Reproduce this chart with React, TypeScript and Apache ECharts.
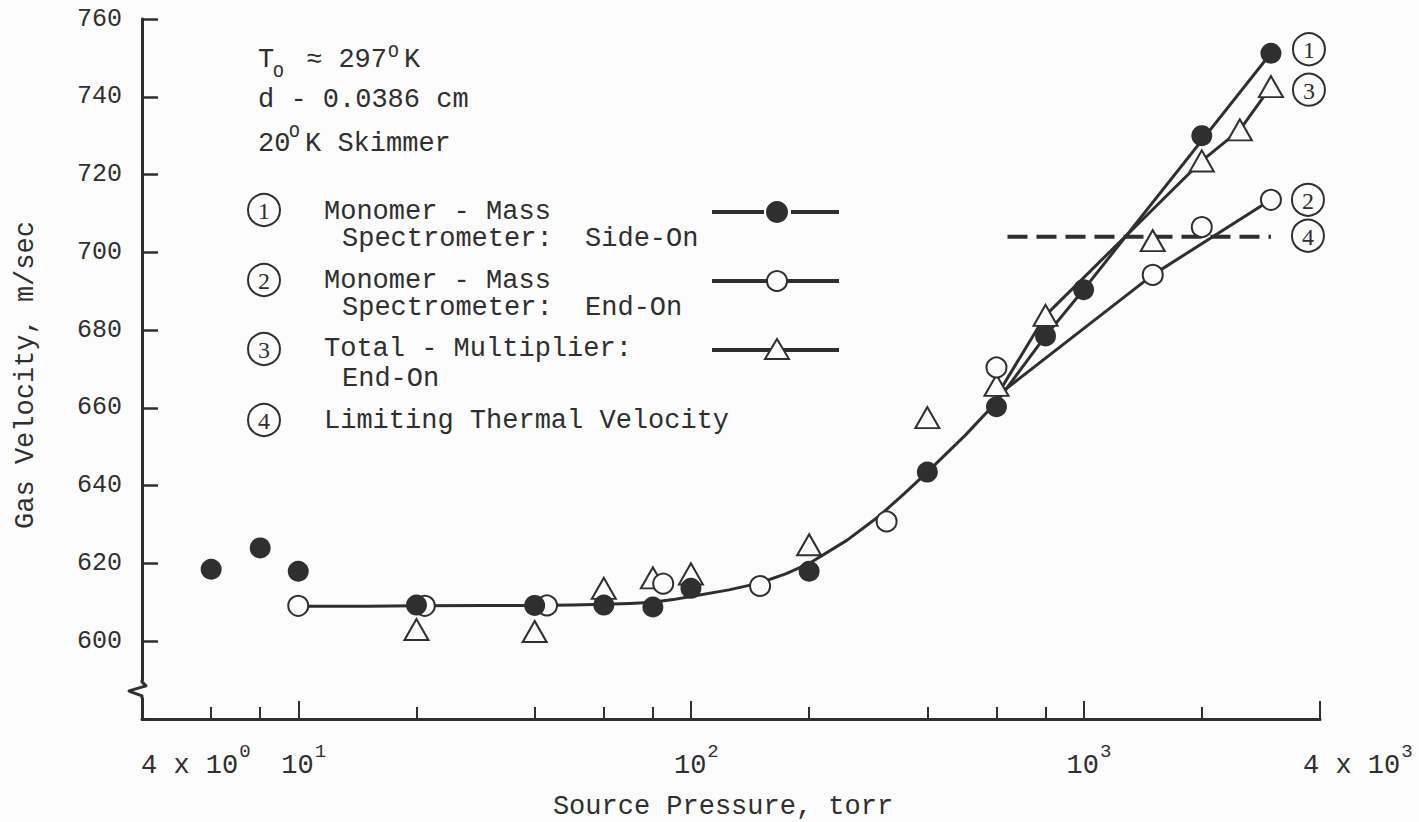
import React, { useEffect, useRef } from "react";
import * as echarts from "echarts";

// ---------- data ----------
const X_MIN = 4;
const X_MAX = 4000;
const Y_MIN = 580;
const Y_MAX = 760;
const Y_STEP = 20;

const majorTickValues = [10, 100, 1000, 4000];
const minorTickValues = [6, 8, 20, 40, 60, 80, 200, 400, 600, 800, 2000];

// (1) Monomer - Mass Spectrometer: Side-On (filled circles)
const monomerSideOn: [number, number][] = [
  [6, 618.5], [8, 624], [10, 618], [20, 609.3], [40, 609.2], [60, 609.3],
  [80, 608.8], [100, 613.6], [200, 618], [400, 643.5], [600, 660.3],
  [800, 678.5], [1000, 690.4], [2000, 730], [3000, 751.2],
];
// (2) Monomer - Mass Spectrometer: End-On (open circles)
const monomerEndOn: [number, number][] = [
  [10, 609.1], [21, 609.1], [43, 609.2], [85, 614.8], [150, 614.2],
  [315, 630.8], [600, 670.4], [1500, 694.2], [2000, 706.5], [3000, 713.5],
];
// (3) Total - Multiplier: End-On (triangles)
const totalEndOn: [number, number][] = [
  [20, 603], [40, 602.5], [60, 613.6], [80, 616.3], [100, 617.3],
  [200, 624.8], [400, 657.5], [600, 665.8], [800, 683.8], [1500, 703],
  [2000, 723.5], [2500, 731.5], [3000, 742.6],
];
// faired curve
const commonCurve: [number, number][] = [
  [10, 609], [15, 609], [20, 609.1], [30, 609.2], [40, 609.2], [50, 609.3],
  [60, 609.5], [70, 609.7], [80, 610], [90, 610.7], [100, 611.5], [125, 613.2],
  [150, 615], [175, 617.4], [200, 620], [250, 626], [300, 632], [350, 638],
  [400, 643.5], [500, 653], [600, 661.5],
];
const curveSideOn: [number, number][] = [[600, 661.5], [800, 678.5], [1000, 690.4], [3000, 751.2]];
const curveTotal: [number, number][] = [[600, 663], [800, 683.8], [2000, 723.5], [2500, 731.5], [3000, 742.6]];
const curveEndOn: [number, number][] = [[600, 663], [1500, 694.2], [3000, 713.5]];
// (4) Limiting thermal velocity
const limitingVelocity: [number, number][] = [[640, 704], [3000, 704]];

const xTickLabels: { v: number; base: string; exp: string }[] = [
  { v: 4, base: "4 x 10", exp: "0" },
  { v: 10, base: "10", exp: "1" },
  { v: 100, base: "10", exp: "2" },
  { v: 1000, base: "10", exp: "3" },
  { v: 4000, base: "4 x 10", exp: "3" },
];

// ---------- style ----------
const INK = "#2f2f2f";
const BG = "#fcfcfc";
const MONO = "'Liberation Mono', 'DejaVu Sans Mono', monospace";
const SERIF = "'Liberation Serif', 'DejaVu Serif', serif";
const FS = 27;
const CH = FS * 0.6;

function txt(x: number, y: number, text: string, size = FS, extra: any = {}) {
  return {
    type: "text",
    x,
    y,
    z: 20,
    silent: true,
    style: {
      text,
      fill: INK,
      fontFamily: MONO,
      fontSize: size,
      lineHeight: Math.round(size * 0.85),
      align: "left",
      verticalAlign: "middle",
      ...extra,
    },
  };
}

function circled(cx: number, cy: number, d: string) {
  return [
    {
      type: "circle",
      z: 20,
      silent: true,
      shape: { cx, cy, r: 16 },
      style: { fill: "none", stroke: INK, lineWidth: 2 },
    },
    {
      type: "text",
      x: cx,
      y: cy + 1,
      z: 21,
      silent: true,
      style: {
        text: d,
        fill: INK,
        fontFamily: SERIF,
        fontSize: 24,
        align: "center",
        verticalAlign: "middle",
      },
    },
  ];
}

function legendSample(y: number, kind: "filled" | "open" | "tri") {
  const out: any[] = [
    { type: "line", z: 20, silent: true, shape: { x1: 712, y1: y, x2: 764, y2: y }, style: { stroke: INK, lineWidth: 4 } },
    { type: "line", z: 20, silent: true, shape: { x1: 791, y1: y, x2: 839, y2: y }, style: { stroke: INK, lineWidth: 4 } },
  ];
  if (kind === "filled") {
    out.push({ type: "circle", z: 21, silent: true, shape: { cx: 777, cy: y, r: 11 }, style: { fill: INK } });
  } else if (kind === "open") {
    out.push({ type: "line", z: 20, silent: true, shape: { x1: 760, y1: y, x2: 795, y2: y }, style: { stroke: INK, lineWidth: 4 } });
    out.push({ type: "circle", z: 21, silent: true, shape: { cx: 777, cy: y, r: 10 }, style: { fill: BG, stroke: INK, lineWidth: 2 } });
  } else {
    out.push({ type: "line", z: 20, silent: true, shape: { x1: 760, y1: y, x2: 795, y2: y }, style: { stroke: INK, lineWidth: 4 } });
    out.push({
      type: "polygon",
      z: 21,
      silent: true,
      shape: { points: [[777, y - 11], [789, y + 9], [765, y + 9]] },
      style: { fill: BG, stroke: INK, lineWidth: 2 },
    });
  }
  return out;
}

const lineSeries = (name: string, data: [number, number][], extra: any = {}) => ({
  name,
  type: "line",
  data,
  symbol: "none",
  showSymbol: false,
  silent: true,
  z: 2,
  lineStyle: { color: INK, width: 3, join: "round" },
  ...extra,
});

const baseOption: any = {
  animation: false,
  backgroundColor: BG,
  grid: { left: 142, right: 99, top: 19, bottom: 103, containLabel: false },
  xAxis: [
    {
      type: "log",
      logBase: 10,
      min: X_MIN,
      max: X_MAX,
      axisLine: { show: true, lineStyle: { color: INK, width: 3 } },
      axisTick: {
        show: true,
        inside: true,
        length: 18,
        customValues: majorTickValues,
        lineStyle: { color: INK, width: 2 },
      },
      axisLabel: { show: false },
      splitLine: { show: false },
      minorTick: { show: false },
      minorSplitLine: { show: false },
    },
    {
      type: "log",
      logBase: 10,
      min: X_MIN,
      max: X_MAX,
      gridIndex: 0,
      position: "bottom",
      axisLine: { show: false },
      axisTick: {
        show: true,
        inside: true,
        length: 12,
        customValues: minorTickValues,
        lineStyle: { color: INK, width: 2 },
      },
      axisLabel: { show: false },
      splitLine: { show: false },
    },
  ],
  yAxis: {
    type: "value",
    min: Y_MIN,
    max: Y_MAX,
    interval: Y_STEP,
    axisLine: { show: true, lineStyle: { color: INK, width: 3 } },
    axisTick: { show: true, inside: true, length: 16, lineStyle: { color: INK, width: 2.5 } },
    axisLabel: {
      margin: 20,
      color: INK,
      fontFamily: MONO,
      fontSize: 25,
      formatter: (v: number) => (v === Y_MIN ? "" : String(v)),
    },
    splitLine: { show: false },
  },
  series: [
    lineSeries("faired curve", commonCurve),
    lineSeries("curve side-on", curveSideOn),
    lineSeries("curve total", curveTotal),
    lineSeries("curve end-on", curveEndOn),
    lineSeries("Limiting Thermal Velocity", limitingVelocity, {
      lineStyle: { color: INK, width: 4, type: [20, 9] },
    }),
    {
      name: "Total - Multiplier: End-On",
      type: "scatter",
      data: totalEndOn,
      symbol: "triangle",
      symbolSize: [24, 21],
      z: 4,
      itemStyle: { color: BG, borderColor: INK, borderWidth: 2, opacity: 1 },
    },
    {
      name: "Monomer - Mass Spectrometer: End-On",
      type: "scatter",
      data: monomerEndOn,
      symbol: "circle",
      symbolSize: 20,
      z: 5,
      itemStyle: { color: BG, borderColor: INK, borderWidth: 2, opacity: 1 },
    },
    {
      name: "Monomer - Mass Spectrometer: Side-On",
      type: "scatter",
      data: monomerSideOn,
      symbol: "circle",
      symbolSize: 21,
      z: 6,
      itemStyle: { color: INK, opacity: 1 },
    },
  ],
};

function buildGraphics(P: (x: number, y: number) => number[]) {
  const g: any[] = [];

  // x tick labels with superscripts
  for (const t of xTickLabels) {
    const px = P(t.v, Y_MIN)[0];
    const x0 = t.v === X_MIN ? px - 1 : px - 17;
    g.push(txt(x0, 766, t.base));
    g.push(txt(x0 + t.base.length * CH + 1, 752, t.exp, 19));
  }

  // axis titles
  g.push(txt(723, 807, "Source Pressure, torr", FS, { align: "center" }));
  g.push({
    ...txt(26, 375, "Gas Velocity, m/sec", FS, { align: "center" }),
    rotation: Math.PI / 2,
  });

  // y-axis break symbol
  const axX = P(X_MIN, Y_MIN)[0];
  const by = P(X_MIN, 587.5)[1];
  g.push({ type: "rect", z: 15, silent: true, shape: { x: axX - 4, y: by - 9, width: 8, height: 17 }, style: { fill: BG } });
  g.push({
    type: "polyline",
    z: 16,
    silent: true,
    shape: { points: [[axX, by - 10], [axX, by - 8], [axX + 4, by - 4], [axX - 13, by + 1], [axX - 11, by + 2], [axX, by + 6], [axX, by + 9]] },
    style: { stroke: INK, lineWidth: 3, fill: "none", lineJoin: "round" },
  });

  // conditions block
  g.push(txt(258, 60, "T"));
  g.push(txt(273, 72, "O", 18));
  g.push(txt(306, 60, "≈ 297"));
  g.push(txt(388, 52, "O", 18));
  g.push(txt(404, 60, "K"));
  g.push(txt(258, 100, "d - 0.0386 cm"));
  g.push(txt(258, 144, "20"));
  g.push(txt(289, 132, "O", 18));
  g.push(txt(305, 144, "K Skimmer"));

  // legend
  g.push(...circled(264, 210, "1"));
  g.push(txt(324, 212, "Monomer - Mass"));
  g.push(txt(342, 239, "Spectrometer:  Side-On"));
  g.push(...legendSample(212, "filled"));

  g.push(...circled(264, 280, "2"));
  g.push(txt(324, 281, "Monomer - Mass"));
  g.push(txt(342, 308, "Spectrometer:  End-On"));
  g.push(...legendSample(281, "open"));

  g.push(...circled(264, 349, "3"));
  g.push(txt(324, 349, "Total - Multiplier:"));
  g.push(txt(342, 379, "End-On"));
  g.push(...legendSample(350, "tri"));

  g.push(...circled(264, 420, "4"));
  g.push(txt(324, 421, "Limiting Thermal Velocity"));

  // curve identifiers at the right ends
  const e1 = P(monomerSideOn[monomerSideOn.length - 1][0], monomerSideOn[monomerSideOn.length - 1][1]);
  const e3 = P(totalEndOn[totalEndOn.length - 1][0], totalEndOn[totalEndOn.length - 1][1]);
  const e2 = P(monomerEndOn[monomerEndOn.length - 1][0], monomerEndOn[monomerEndOn.length - 1][1]);
  const e4 = P(limitingVelocity[1][0], limitingVelocity[1][1]);
  g.push(...circled(e1[0] + 38, e1[1] - 4, "1"));
  g.push(...circled(e3[0] + 38, e3[1] + 3, "3"));
  g.push(...circled(e2[0] + 37, e2[1], "2"));
  g.push(...circled(e4[0] + 37, e4[1] - 1, "4"));

  return g;
}

export default function App() {
  const ref = useRef<HTMLDivElement>(null);
  useEffect(() => {
    const chart = echarts.init(ref.current!, null, { renderer: "svg" });
    chart.setOption(baseOption);
    const P = (x: number, y: number) => chart.convertToPixel({ gridIndex: 0 }, [x, y]) as number[];
    chart.setOption({ graphic: { elements: buildGraphics(P) } });
    return () => chart.dispose();
  }, []);
  return (
    <div
      ref={ref}
      style={{ position: "fixed", left: 0, top: 0, width: 1419, height: 822, background: BG }}
    />
  );
}
